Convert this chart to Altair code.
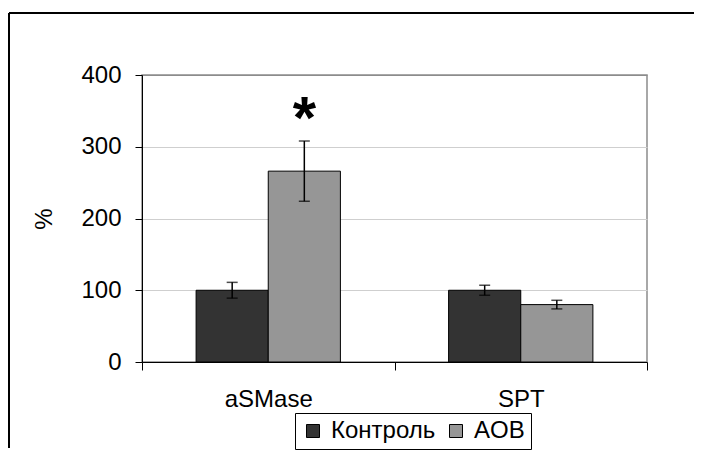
import altair as alt
import pandas as pd

# ---- data ----
categories = ["aSMase", "aSMase", "SPT", "SPT"]
groups = ["Контроль", "AOB", "Контроль", "AOB"]
values = [100, 266, 100, 80]
errors = [11, 42, 7, 6]

category_order = ["aSMase", "SPT"]
group_order = ["Контроль", "AOB"]
group_colors = ["#333333", "#969696"]

star_category = ["aSMase"]
star_group = ["AOB"]
star_value = [357]
star_text = ["*"]

y_ticks = [0, 100, 200, 300, 400]

df = pd.DataFrame({"cat": categories, "grp": groups, "val": values, "err": errors})
df["lo"] = df["val"] - df["err"]
df["hi"] = df["val"] + df["err"]
star_df = pd.DataFrame({"cat": star_category, "grp": star_group,
                        "val": star_value, "txt": star_text})

W, H = 505, 287
FONT = "Liberation Sans"
FS = 24

x_enc = alt.X("cat:N", sort=category_order, title=None,
              scale=alt.Scale(paddingInner=0, paddingOuter=0),
              axis=alt.Axis(labelAngle=0, tickBand="extent", tickSize=8,
                            tickColor="black", domainColor="black",
                            labelFontSize=FS, labelPadding=17, labelFont=FONT,
                            labelColor="black", grid=False))
xo_enc = alt.XOffset("grp:N", sort=group_order,
                     scale=alt.Scale(paddingInner=0, paddingOuter=0.75))
y_scale = alt.Scale(domain=[0, 400], nice=False)
y_axis = alt.Axis(values=y_ticks, grid=True,
                  gridColor={"condition": {"test": "datum.value === 400", "value": "#8c8c8c"},
                             "value": "#cfcfcf"},
                  gridWidth=1.2,
                  tickColor="black", tickSize=7, domainColor="black",
                  labelFontSize=FS, labelPadding=14, labelFont=FONT, labelColor="black",
                  title="%", titleFontSize=FS, titleFont=FONT, titleFontWeight="normal",
                  titleColor="black", titlePadding=24)

base = alt.Chart(df)

bars = base.mark_bar(stroke="black", strokeWidth=1).encode(
    x=x_enc, xOffset=xo_enc,
    y=alt.Y("val:Q", scale=y_scale, axis=y_axis),
    color=alt.Color("grp:N", sort=group_order,
                    scale=alt.Scale(domain=group_order, range=group_colors),
                    legend=alt.Legend(orient="none", legendX=153, legendY=338,
                                      direction="horizontal", title=None,
                                      strokeColor="black", fillColor="white",
                                      padding=6, symbolType="square", symbolSize=169,
                                      symbolStrokeColor="black", symbolStrokeWidth=1,
                                      labelFontSize=FS, labelFont=FONT, labelColor="black",
                                      columnPadding=8, labelOffset=6)),
)

err_rule = base.mark_rule(color="black", strokeWidth=1.5).encode(
    x=x_enc, xOffset=xo_enc, y=alt.Y("lo:Q", scale=y_scale), y2="hi:Q")
cap_hi = base.mark_tick(color="black", thickness=1.5, size=11).encode(
    x=x_enc, xOffset=xo_enc, y=alt.Y("hi:Q", scale=y_scale))
cap_lo = base.mark_tick(color="black", thickness=1.5, size=11).encode(
    x=x_enc, xOffset=xo_enc, y=alt.Y("lo:Q", scale=y_scale))

star = alt.Chart(star_df).mark_text(fontSize=60, fontWeight="bold", font=FONT,
                                    color="black", baseline="middle", dy=14).encode(
    x=x_enc, xOffset=xo_enc, y=alt.Y("val:Q", scale=y_scale), text="txt:N")

frame_df = pd.DataFrame({"k": [0]})
frame_left = alt.Chart(frame_df).mark_rule(color="black", strokeWidth=2).encode(
    x=alt.value(-133), x2=alt.value(-133), y=alt.value(-62), y2=alt.value(373))
frame_top = alt.Chart(frame_df).mark_rule(color="black", strokeWidth=2).encode(
    x=alt.value(-133), x2=alt.value(552), y=alt.value(-62), y2=alt.value(-62))

chart = alt.layer(bars, err_rule, cap_hi, cap_lo, star, frame_left, frame_top).properties(
    width=W, height=H,
    padding={"left": 0, "top": 4, "right": 0, "bottom": 0},
).configure_view(stroke="#8c8c8c", strokeWidth=1.5)

chart.save("out.html", embed_options={"renderer": "svg", "actions": False})
